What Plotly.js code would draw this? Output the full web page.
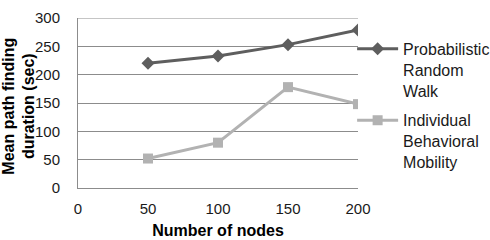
<!DOCTYPE html>
<html><head><meta charset="utf-8">
<script src="https://cdn.plot.ly/plotly-3.0.1.min.js"></script>
<style>html,body{margin:0;padding:0;background:#fff}#c{width:490px;height:240px}</style>
</head><body><div id="c"></div>
<script>
const nodes = [50, 100, 150, 200];
const probabilisticRandomWalk = [220, 233, 253, 279];
const individualBehavioralMobility = [52, 80, 178, 148];
const seriesNames = ["Probabilistic<br>Random<br>Walk", "Individual<br>Behavioral<br>Mobility"];
const yTicks = [0, 50, 100, 150, 200, 250, 300];
const xTicks = [0, 50, 100, 150, 200];
const yTitle = 'Mean path finding<br>duration (sec)';
const xTitle = 'Number of nodes';

const traces = [
  {x: nodes, y: probabilisticRandomWalk, name: seriesNames[0], mode: 'lines+markers', legendgroup: 'a',
   line: {color: '#5e5e5e', width: 3}, marker: {symbol: 'diamond', size: 10, color: '#5e5e5e'}},
  {x: nodes, y: individualBehavioralMobility, name: seriesNames[1], mode: 'lines+markers', legendgroup: 'b',
   line: {color: '#b2b2b2', width: 3}, marker: {symbol: 'square', size: 10, color: '#b2b2b2'}}
];
const fam = 'Liberation Sans, Arial, sans-serif';
const layout = {
  width: 490, height: 240,
  margin: {l: 78, r: 132, t: 18, b: 52, autoexpand: false},
  paper_bgcolor: '#fff', plot_bgcolor: '#fff',
  font: {family: fam, size: 15, color: '#1a1a1a'},
  showlegend: true,
  legend: {x: 0.979, xanchor: 'left', y: 0.918, yanchor: 'top', valign: 'top', tracegroupgap: 6, itemwidth: 41,
           font: {family: fam, size: 16, color: '#1a1a1a'}, bgcolor: 'rgba(0,0,0,0)'},
  shapes: [{type: 'line', xref: 'paper', x0: 0, x1: 1, yref: 'y', y0: 300, y1: 300,
            line: {color: '#8c8c8c', width: 1}, layer: 'below'}],
  annotations: [{text: yTitle, textangle: -90, xref: 'paper', yref: 'paper', x: -0.212, y: 0.5,
                 xanchor: 'center', yanchor: 'middle', yshift: -3, showarrow: false,
                 font: {family: fam, size: 16, color: '#000', weight: 'bold'}}],
  xaxis: {range: [0, 200], tickvals: xTicks, ticktext: xTicks.map(String), showgrid: false,
          showline: true, linecolor: '#8c8c8c', linewidth: 1, zeroline: false, ticks: '', automargin: true,
          ticklabelstandoff: 7, tickfont: {size: 15},
          title: {text: xTitle, font: {family: fam, size: 16, color: '#000', weight: 'bold'}, standoff: 8}},
  yaxis: {range: [0, 300], tickvals: yTicks, ticktext: yTicks.map(String), showgrid: true, automargin: false,
          gridcolor: '#8c8c8c', gridwidth: 1, showline: true, linecolor: '#8c8c8c', zeroline: false, ticks: '',
          ticklabelstandoff: 14, tickfont: {size: 15}}
};
Plotly.newPlot('c', traces, layout, {displayModeBar: false, staticPlot: true});
</script></body></html>
